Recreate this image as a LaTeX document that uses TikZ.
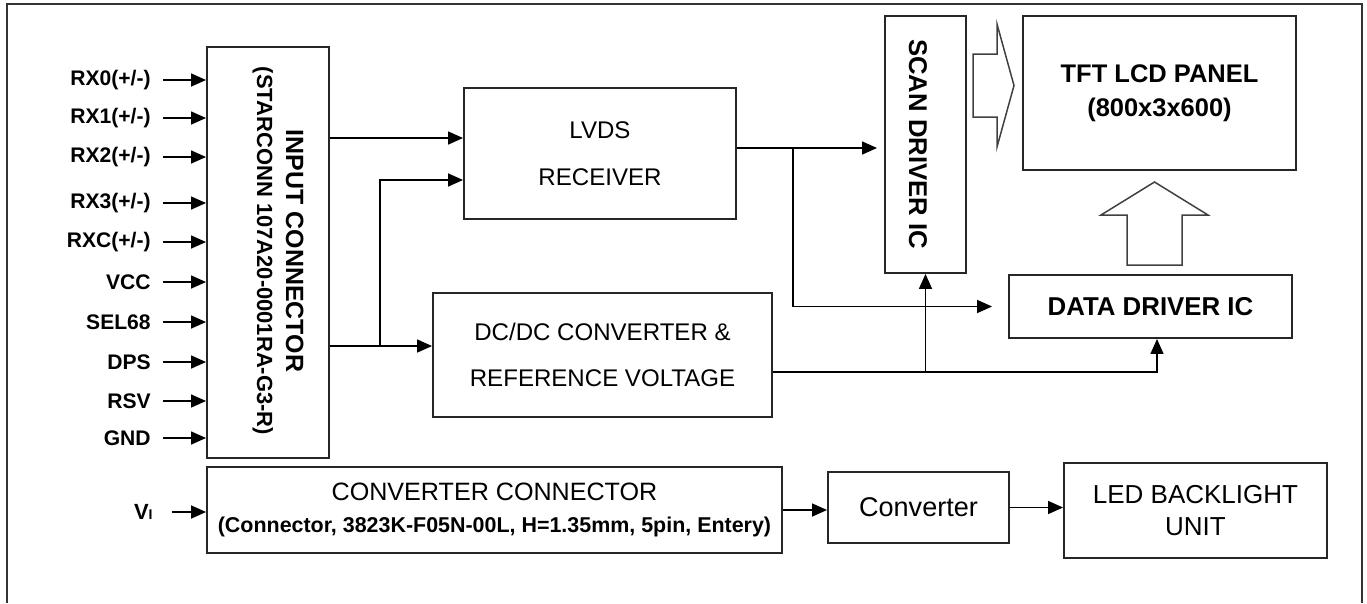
\documentclass[tikz,border=0pt]{standalone}
\usepackage{fontspec}
\setmainfont{Liberation Sans}
\usetikzlibrary{arrows.meta}

\begin{document}
\begin{tikzpicture}[
    x=0.02cm, y=-0.02cm,
    box/.style={draw=black!85, line width=1.1pt, rectangle, inner sep=0pt, align=center},
    boldbox/.style={box, font=\bfseries\fontsize{14.7}{17}\selectfont},
    plainbox/.style={box, font=\fontsize{13.7}{26.5}\selectfont},
    sig/.style={font=\bfseries\fontsize{12}{14}\selectfont, inner sep=0pt, anchor=east},
    arrow/.style={-{Triangle[length=0.3cm, width=0.26cm]}, line width=0.85pt},
    bigarrow/.style={draw=black!75, line width=0.85pt, line join=miter}
  ]
  \useasboundingbox (0,0) rectangle (1367,603);
  \draw[black!80, line width=0.8pt] (7,603) -- (7,4) -- (1362,4) -- (1362,603);

  % blocks
  \node[box, minimum width=2.44cm, minimum height=8.22cm] (inconn) at (268,252.5) {};
  \node[rotate=-90, align=center, inner sep=0pt, font=\bfseries\fontsize{14.2}{16.5}\selectfont] (inconn-text) at (278,251)
    {INPUT CONNECTOR\\{\fontsize{12.5}{16.5}\selectfont (STARCONN 107A20-0001RA-G3-R)}};
  \node[plainbox, minimum width=5.44cm, minimum height=2.62cm] (lvds) at (600,153.5) {LVDS\\RECEIVER};
  \node[plainbox, minimum width=6.78cm, minimum height=2.48cm] (dcdc) at (602.5,355) {DC/DC CONVERTER \&\\REFERENCE VOLTAGE};
  \node[box, minimum width=1.62cm, minimum height=5.14cm] (scan) at (925.5,144.5) {};
  \node[rotate=-90, inner sep=0pt, font=\bfseries\fontsize{14.6}{17}\selectfont] (scan-text) at (918,144) {SCAN DRIVER IC};
  \node[boldbox, minimum width=5.46cm, minimum height=3.08cm, font=\bfseries\fontsize{14.5}{19.3}\selectfont] (tft) at (1159.5,93) {TFT LCD PANEL\\(800x3x600)};
  \node[boldbox, minimum width=5.66cm, minimum height=1.26cm] (data) at (1150.5,306.5) {DATA DRIVER IC};

  \node[box, minimum width=11.5cm, minimum height=1.72cm, font=\fontsize{14.3}{18.5}\selectfont] (convconn) at (494.5,510)
    {CONVERTER CONNECTOR\\{\bfseries\fontsize{12.2}{14}\selectfont (Connector, 3823K-F05N-00L, H=1.35mm, 5pin, Entery)}};
  \node[box, minimum width=3.62cm, minimum height=1.42cm, font=\fontsize{15.4}{18}\selectfont] (conv) at (918.5,507.5) {Converter};
  \node[box, minimum width=5.26cm, minimum height=1.9cm, font=\fontsize{14.8}{18.2}\selectfont] (led) at (1195.5,510.5) {LED BACKLIGHT\\UNIT};

  % input signals
  \foreach \lbl/\yy [count=\i] in {{RX0(+/-)}/80, {RX1(+/-)}/118, {RX2(+/-)}/157, {RX3(+/-)}/203, {RXC(+/-)}/242,
      VCC/282, SEL68/322, DPS/362, RSV/401, GND/438} {
    \node[sig] (in\i) at (151,\yy) {\lbl};
    \draw[arrow, shorten <=0.24cm] (in\i.east) -- (in\i.east -| inconn.west);
  }
  \node[sig, font=\bfseries\fontsize{12.5}{14}\selectfont] (vi) at (153,512) {V{\fontsize{8}{8}\selectfont I}};

  % block arrows
  \draw[bigarrow] (973,54) -- (997,54) -- (997,24) -- (1014,85.5) -- (997,147) -- (997,117) -- (973,117) -- cycle;
  \draw[bigarrow] (1127,265) -- (1182,265) -- (1182,215) -- (1208,215) -- (1154.5,182) -- (1101,215) -- (1127,215) -- cycle;

  % connectors
  \coordinate (lvdsin1) at ([yshift=0.31cm]lvds.west);
  \coordinate (lvdsin2) at ([yshift=-0.53cm]lvds.west);
  \coordinate (dcdcin) at ([yshift=0.18cm]dcdc.west);
  \coordinate (lvdsout) at ([yshift=0.11cm]lvds.east);
  \coordinate (dcdcout) at ([yshift=-0.34cm]dcdc.east);
  \coordinate (split1) at (380,346);
  \coordinate (split2) at (793,148);
  \coordinate (split3) at (scan.south |- dcdcout);

  \draw[arrow] (inconn.east |- lvdsin1) -- (lvdsin1);
  \draw[arrow] (inconn.east |- dcdcin) -- (dcdcin);
  \draw[arrow] (split1) |- (lvdsin2);
  \draw[arrow, shorten >=0.14cm] (lvdsout) -- (lvdsout -| scan.west);
  \draw[arrow, shorten >=0.32cm] (split2) |- (data.west);
  \draw[arrow] (dcdcout) -| ([xshift=0.13cm]data.south);
  \draw[arrow] (split3) -- (scan.south);

  \draw[arrow, shorten <=0.38cm] (vi.east) -- (vi.east -| convconn.west);
  \draw[arrow] (convconn.east) -- (convconn.east -| conv.west);
  \draw[arrow] (conv.east) -- (conv.east -| led.west);
\end{tikzpicture}
\end{document}
